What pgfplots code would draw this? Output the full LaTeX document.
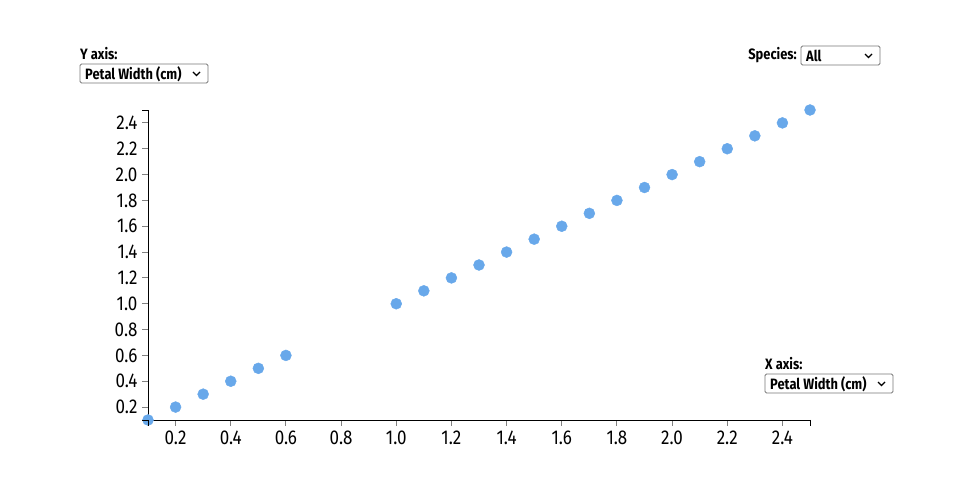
\documentclass[border=0pt]{standalone}
\usepackage{fontspec}
\setmainfont{Fira Sans}[FakeStretch=0.86]
\newfontfamily\tickfont{Fira Sans}[FakeStretch=0.85]
\usepackage{pgfplots}
\pgfplotsset{compat=1.18}
\definecolor{dot}{RGB}{104,168,234}
\definecolor{boxgray}{RGB}{118,118,118}

% one dropdown: #1 = west x, #2 = top y (px from top), #3 = width, #4 = text
\newcommand{\dropdown}[4]{%
  \draw[boxgray, rounded corners=1.5pt, line width=0.8pt]
    (#1pt,{500pt-#2pt}) rectangle ({#1pt+#3pt},{500pt-#2pt-19pt});
  \node[anchor=west, inner sep=0pt, font=\fontsize{15}{17}\selectfont\bfseries]
    at ({#1pt+5pt},{500pt-#2pt-10pt}) {#4};
  \draw[black, line width=1.2pt]
    ({#1pt+#3pt-15pt},{500pt-#2pt-8pt}) -- ({#1pt+#3pt-11.5pt},{500pt-#2pt-11.5pt})
    -- ({#1pt+#3pt-8pt},{500pt-#2pt-8pt});
}

\begin{document}
\begin{tikzpicture}[x=1pt,y=1pt]
  \path (0,0) rectangle (960,500);

  \begin{axis}[
    at={(148pt,80pt)}, anchor=south west,
    scale only axis,
    width=662pt, height=310pt,
    xmin=0.1, xmax=2.5, ymin=0.1, ymax=2.5,
    axis x line*=bottom, axis y line*=left,
    axis line style={black, line width=0.9pt, -},
    axis on top,
    xtick={0.2,0.4,...,2.41}, ytick={0.2,0.4,...,2.41},
    tick style={gray, line width=1pt},
    major tick length=6pt,
    tick align=outside,
    ticklabel style={font=\tickfont\fontsize{20}{22}\selectfont},
    /pgf/number format/.cd, fixed, fixed zerofill, precision=1,
    assume math mode=true,
    /pgfplots/.cd,
    xticklabel style={yshift=-1pt},
    yticklabel style={xshift=-1pt},
    clip=false,
  ]
    \addplot[only marks, mark=*, mark size=5.5pt,
      mark options={draw=dot, fill=dot}] coordinates {
      (0.1,0.1) (0.2,0.2) (0.3,0.3) (0.4,0.4) (0.5,0.5) (0.6,0.6)
      (1.0,1.0) (1.1,1.1) (1.2,1.2) (1.3,1.3) (1.4,1.4) (1.5,1.5)
      (1.6,1.6) (1.7,1.7) (1.8,1.8) (1.9,1.9) (2.0,2.0) (2.1,2.1)
      (2.2,2.2) (2.3,2.3) (2.4,2.4) (2.5,2.5)
    };
  \end{axis}
  % outer ticks at the ends of the domain lines
  \draw[black, line width=0.9pt] (148,80) -- (148,74);
  \draw[black, line width=0.9pt] (810,80) -- (810,74);
  \draw[black, line width=0.9pt] (148,80) -- (142,80);
  \draw[black, line width=0.9pt] (148,390) -- (142,390);

  % controls
  \node[anchor=base west, inner sep=0pt, font=\fontsize{15}{17}\selectfont\bfseries]
    at (80,440) {Y axis:};
  \dropdown{80}{64}{128}{Petal Width (cm)}

  \node[anchor=base east, inner sep=0pt, font=\fontsize{15}{17}\selectfont\bfseries]
    at (797,440) {Species:};
  \dropdown{801}{46}{79}{All}

  \node[anchor=base west, inner sep=0pt, font=\fontsize{15}{17}\selectfont\bfseries]
    at (765,130) {X axis:};
  \dropdown{765}{374}{128}{Petal Width (cm)}
\end{tikzpicture}
\end{document}
